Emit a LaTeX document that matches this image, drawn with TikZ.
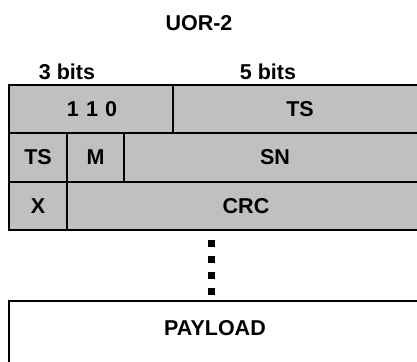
\documentclass[tikz,border=0pt]{standalone}
\usepackage{fontspec}
\setmainfont{Liberation Sans}
\begin{document}
\begin{tikzpicture}[x=1pt,y=-1pt,
  field/.style={draw=black,fill=hdrgray,line width=2.7pt},
  plain/.style={draw=black,fill=white,line width=2.7pt},
  lbl/.style={inner sep=0pt,font=\fontsize{21.5}{25}\selectfont\bfseries},
  dotsq/.style={fill=black,minimum size=7pt,inner sep=0pt}]
\definecolor{hdrgray}{HTML}{C0C0C0}
\useasboundingbox (0,0) rectangle (417,361);
\clip (0,0) rectangle (417,361);
% title and bit widths
\node[lbl] (title) at (199,23) {UOR-2};
\node[lbl] (b3) at (67,72) {3 bits};
\node[lbl] (b5) at (268,72) {5 bits};
% header rows
\draw[field] (9,85) rectangle (173,133);
\draw[field] (173,85) rectangle (426,133);
\draw[field] (9,133) rectangle (67,182);
\draw[field] (67,133) rectangle (124,182);
\draw[field] (124,133) rectangle (426,182);
\draw[field] (9,182) rectangle (67,230);
\draw[field] (67,182) rectangle (426,230);
\node[lbl] (f110) at (92,109) {1\,\,1\,\,0};
\node[lbl] (ts1) at (300,109) {TS};
\node[lbl] (ts2) at (38,157.5) {TS};
\node[lbl] (m) at (95.5,157.5) {M};
\node[lbl] (sn) at (275,157.5) {SN};
\node[lbl] (x) at (38,206) {X};
\node[lbl] (crc) at (246,206) {CRC};
% continuation dots
\foreach \yy [count=\i] in {243,259,275,291}
  \node[dotsq] (d\i) at (211,\yy) {};
% payload
\draw[plain] (9,301) rectangle (426,380);
\node[lbl] (pl) at (215,328) {PAYLOAD};
\end{tikzpicture}
\end{document}
